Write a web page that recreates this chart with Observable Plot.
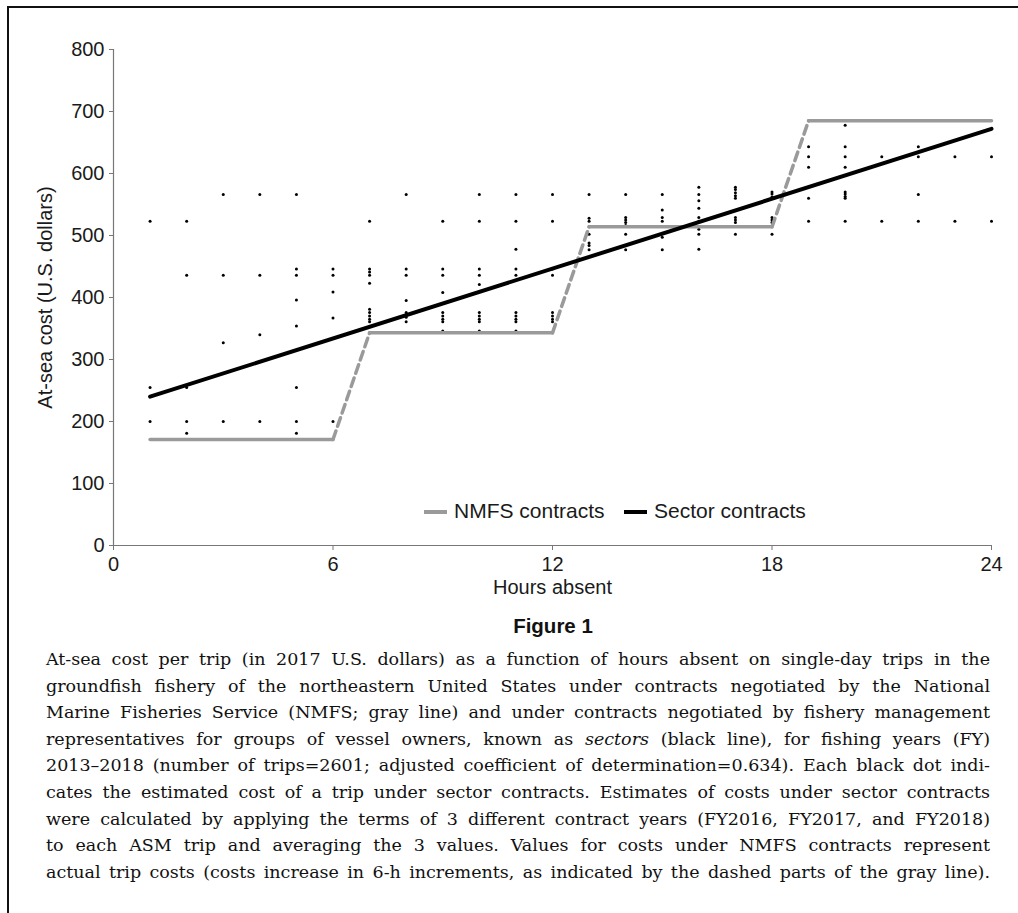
<!DOCTYPE html>
<html>
<head>
<meta charset="utf-8">
<script src="https://cdn.jsdelivr.net/npm/d3@7"></script>
<script src="https://cdn.jsdelivr.net/npm/@observablehq/plot@0.6"></script>
<style>
  html, body { margin: 0; padding: 0; background: #fff; }
  body { width: 1018px; height: 913px; position: relative; overflow: hidden; }
  #frame { position: absolute; left: 7px; top: 6px; width: 2000px; height: 2000px;
           border-left: 2.5px solid #111; border-top: 2.5px solid #111; pointer-events: none; }
  #chart { position: absolute; left: 0; top: 0; }
  #legend { position: absolute; top: 499px; left: 0; font-family: "Liberation Sans", Arial, sans-serif;
            font-size: 21px; color: #1a1a1a; }
  .lg { position: absolute; white-space: nowrap; line-height: 24px; }
  .sw { position: absolute; height: 3.5px; width: 23px; top: 11px; }
  #figtitle { position: absolute; top: 614px; left: 0; width: 1106px; text-align: center;
              font-family: "Liberation Sans", Arial, sans-serif; font-weight: bold; font-size: 20.5px; color: #111; }
  #caption { position: absolute; left: 46px; top: 646px; width: 944px;
             font-family: "DejaVu Serif", serif; font-size: 17.5px; line-height: 26.6px; color: #111; }
  #caption div { white-space: nowrap; }
</style>
</head>
<body>
<div id="chart"></div>
<div id="legend">
  <div class="sw" style="left:424px;background:#9a9a9a"></div>
  <div class="lg" style="left:454px">NMFS contracts</div>
  <div class="sw" style="left:624px;background:#000;height:4px"></div>
  <div class="lg" style="left:654px">Sector contracts</div>
</div>
<div id="figtitle">Figure 1</div>
<div id="caption"></div>
<div id="frame"></div>
<script>
// ---- data ----
const xTicks = [0, 6, 12, 18, 24];
const yTicks = [0, 100, 200, 300, 400, 500, 600, 700, 800];

// estimated at-sea cost of each trip (sector contracts), listed by hours absent 1..24
const costsByHour = [
  [523, 255, 200],                                   // 1
  [523, 436, 255, 200, 181],                         // 2
  [566, 436, 327, 200],                              // 3
  [566, 436, 340, 200],                              // 4
  [566, 446, 436, 396, 354, 255, 200, 181],          // 5
  [446, 436, 409, 367, 200],                         // 6
  [523, 446, 441, 436, 423, 381, 376, 370, 365, 361],// 7
  [566, 446, 436, 395, 376, 368, 361],               // 8
  [523, 446, 436, 408, 376, 370, 365, 361, 346],     // 9
  [566, 523, 446, 436, 421, 376, 370, 365, 361, 346],// 10
  [566, 523, 478, 446, 436, 376, 370, 365, 361, 346],// 11
  [566, 523, 446, 436, 376, 370, 365, 361],          // 12
  [566, 528, 523, 502, 488, 484, 477],               // 13
  [566, 529, 525, 521, 516, 502, 484, 477],          // 14
  [566, 541, 529, 523, 497, 477],                    // 15
  [578, 566, 556, 544, 529, 523, 510, 502, 478],     // 16
  [578, 574, 569, 564, 560, 529, 525, 521, 502],     // 17
  [570, 567, 562, 529, 525, 521, 502],               // 18
  [643, 627, 610, 560, 523],                         // 19
  [678, 643, 627, 610, 570, 567, 563, 560, 523],     // 20
  [627, 523],                                        // 21
  [643, 627, 566, 523],                              // 22
  [627, 523],                                        // 23
  [627, 523]                                         // 24
];

// NMFS contract cost levels (6-h increments)
const nmfsStartHours = [1, 7, 13, 19];
const nmfsEndHours   = [6, 12, 18, 24];
const nmfsLevels     = [171, 343, 514, 685];

// Sector contracts fitted line
const sectorHours = [1, 24];
const sectorCosts = [240, 672];

const captionLines = [
  "At-sea cost per trip (in 2017 U.S. dollars) as a function of hours absent on single-day trips in the",
  "groundfish fishery of the northeastern United States under contracts negotiated by the National",
  "Marine Fisheries Service (NMFS; gray line) and under contracts negotiated by fishery management",
  "representatives for groups of vessel owners, known as <i>sectors</i> (black line), for fishing years (FY)",
  "2013–2018 (number of trips=2601; adjusted coefficient of determination=0.634). Each black dot indi-",
  "cates the estimated cost of a trip under sector contracts. Estimates of costs under sector contracts",
  "were calculated by applying the terms of 3 different contract years (FY2016, FY2017, and FY2018)",
  "to each ASM trip and averaging the 3 values. Values for costs under NMFS contracts represent",
  "actual trip costs (costs increase in 6-h increments, as indicated by the dashed parts of the gray line)."
];

// ---- derived tables ----
const dots = costsByHour.flatMap((arr, i) => arr.map(c => ({hour: i + 1, cost: c})));
const nmfsSolid = nmfsLevels.flatMap((lv, i) => [
  {seg: i, hour: nmfsStartHours[i], cost: lv},
  {seg: i, hour: nmfsEndHours[i], cost: lv}
]);
const nmfsDashed = nmfsLevels.slice(0, -1).flatMap((lv, i) => [
  {seg: i, hour: nmfsEndHours[i], cost: lv},
  {seg: i, hour: nmfsStartHours[i + 1], cost: nmfsLevels[i + 1]}
]);
const sector = sectorHours.map((h, i) => ({hour: h, cost: sectorCosts[i]}));

const chart = Plot.plot({
  width: 1018,
  height: 600,
  marginLeft: 113,
  marginRight: 27,
  marginTop: 49,
  marginBottom: 55,
  x: {domain: [0, 24]},
  y: {domain: [0, 800]},
  style: {fontFamily: "Liberation Sans, Arial, sans-serif", fontSize: "20px", color: "#1a1a1a", background: "transparent", overflow: "visible"},
  marks: [
    Plot.axisY({ticks: yTicks, tickSize: 4, tickPadding: 5, stroke: "#777", fill: "#1a1a1a",
      label: "At-sea cost (U.S. dollars)", labelAnchor: "center", labelArrow: "none", labelOffset: 76}),
    Plot.axisX({ticks: xTicks, tickSize: 5, tickPadding: 6, stroke: "#777", fill: "#1a1a1a",
      label: "Hours absent", labelAnchor: "center", labelArrow: "none", labelOffset: 48}),
    Plot.ruleX([0], {stroke: "#777", strokeWidth: 1.2}),
    Plot.ruleY([0], {stroke: "#777", strokeWidth: 1.2}),
    Plot.dot(dots, {x: "hour", y: "cost", r: 1.5, fill: "#000", stroke: "none"}),
    Plot.line(nmfsSolid, {x: "hour", y: "cost", z: "seg", stroke: "#9a9a9a", strokeWidth: 3.5}),
    Plot.line(nmfsDashed, {x: "hour", y: "cost", z: "seg", stroke: "#9a9a9a", strokeWidth: 3.5, strokeDasharray: "9,5"}),
    Plot.line(sector, {x: "hour", y: "cost", stroke: "#000", strokeWidth: 4})
  ]
});
document.getElementById("chart").appendChild(chart);

// caption, justified line by line
const cap = document.getElementById("caption");
const target = 944;
captionLines.forEach(t => {
  const d = document.createElement("div");
  const s = document.createElement("span");
  s.innerHTML = t;
  d.appendChild(s);
  cap.appendChild(d);
  const w = s.getBoundingClientRect().width;
  const spaces = (t.replace(/<[^>]+>/g, "").match(/ /g) || []).length;
  if (spaces > 0) s.style.wordSpacing = ((target - w) / spaces) + "px";
});
</script>
</body>
</html>
